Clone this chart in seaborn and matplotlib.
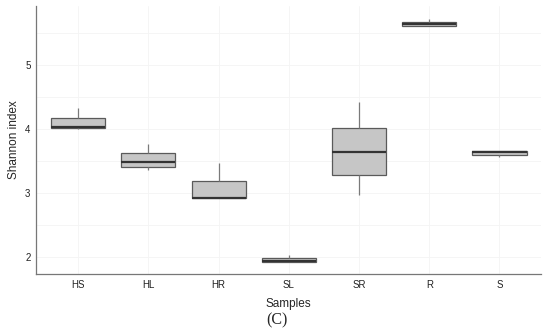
import numpy as np
import pandas as pd
import matplotlib
matplotlib.use("Agg")
import matplotlib.pyplot as plt
import seaborn as sns

# Shannon index par echantillon (5 valeurs lues : min, Q1, mediane, Q3, max)
samples = ["HS", "HL", "HR", "SL", "SR", "R", "S"]
hs = [3.99, 4.01, 4.03, 4.17, 4.33]
hl = [3.35, 3.40, 3.48, 3.62, 3.77]
hr = [2.92, 2.92, 2.92, 3.19, 3.46]
sl = [1.92, 1.92, 1.93, 1.98, 2.02]
sr = [2.97, 3.28, 3.63, 4.01, 4.42]
r = [5.61, 5.61, 5.64, 5.67, 5.72]
s = [3.56, 3.59, 3.64, 3.66, 3.66]

values = [hs, hl, hr, sl, sr, r, s]
df = pd.DataFrame({
    "Samples": np.repeat(samples, [len(v) for v in values]),
    "Shannon index": np.concatenate(values),
})

sns.set_style("white")
plt.rcParams["font.family"] = ["Liberation Sans", "DejaVu Sans"]

fig = plt.figure(figsize=(5.5, 3.36), dpi=100)
ax = fig.add_axes([0.0655, 0.1845, 0.918, 0.7975])

sns.boxplot(
    data=df, x="Samples", y="Shannon index", order=samples, ax=ax,
    color="#c6c6c6", width=0.77, whis=(0, 100), linewidth=0.9,
    boxprops=dict(facecolor="#c6c6c6", edgecolor="#5a5a5a"),
    whiskerprops=dict(color="#7a7a7a"),
    capprops=dict(linewidth=0),
    medianprops=dict(color="#333333", linewidth=1.6),
    showfliers=False,
)

ax.set_ylim(1.73, 5.92)
ax.set_xlim(-0.6, 6.59)
ax.set_yticks([2, 3, 4, 5])
ax.set_yticks([2.5, 3.5, 4.5, 5.5], minor=True)
ax.grid(True, which="both", axis="y", color="#f4f4f4", linewidth=0.6)
ax.grid(True, which="major", axis="x", color="#f4f4f4", linewidth=0.6)
ax.set_axisbelow(True)
ax.tick_params(axis="both", which="both", length=0, labelsize=7, colors="#222222", pad=4)

for side in ["top", "right"]:
    ax.spines[side].set_visible(False)
for side in ["left", "bottom"]:
    ax.spines[side].set_color("#777777")
    ax.spines[side].set_linewidth(0.9)

ax.set_xlabel("Samples", fontsize=8.5, labelpad=6)
ax.set_ylabel("Shannon index", fontsize=8.5, labelpad=4)

fig.text(0.504, 0.045, "(C)", ha="center", va="center",
         fontsize=11.5, family="Liberation Serif")

fig.savefig("out.png", dpi=100)
